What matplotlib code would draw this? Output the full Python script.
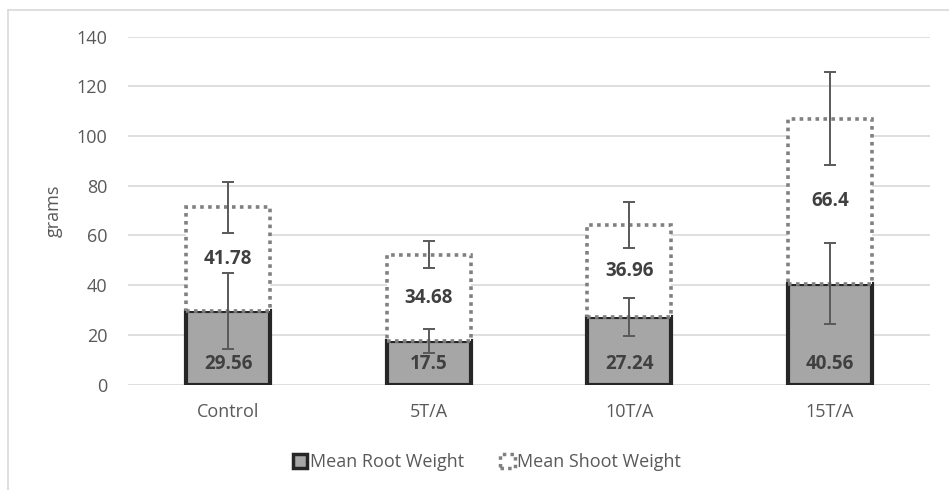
import matplotlib
matplotlib.use("Agg")
import matplotlib.pyplot as plt
from matplotlib.patches import Rectangle
from matplotlib.lines import Line2D
import numpy as np

categories = ["Control", "5T/A", "10T/A", "15T/A"]
root = [29.56, 17.5, 27.24, 40.56]
shoot = [41.78, 34.68, 36.96, 66.4]
root_err = [15.3, 5.0, 7.7, 16.2]
shoot_err = [10.2, 5.5, 9.1, 18.7]
yticks = [0, 20, 40, 60, 80, 100, 120, 140]

plt.rcParams['font.family'] = ['Open Sans', 'DejaVu Sans']

W, H = 949, 490
fig = plt.figure(figsize=(W / 100, H / 100), dpi=100)
ax = fig.add_axes([128 / W, 1 - 384.5 / H, (930 - 128) / W, (384.5 - 36.5) / H])

x = np.arange(len(categories))
bw = 0.42

ax.bar(x, root, bw, color="#A6A6A6", edgecolor="#262626", linewidth=3.0, zorder=3)
ax.bar(x, shoot, bw, bottom=root, color="white", edgecolor="#808080",
       linewidth=2.6, linestyle=(0, (1, 1.2)), zorder=3)

ax.errorbar(x, root, yerr=root_err, fmt="none", ecolor="#595959", elinewidth=1.4,
            capsize=4.5, capthick=1.4, zorder=5)
tops = [r + s for r, s in zip(root, shoot)]
ax.errorbar(x, tops, yerr=shoot_err, fmt="none", ecolor="#595959", elinewidth=1.4,
            capsize=4.5, capthick=1.4, zorder=5)

for i in range(len(categories)):
    ax.annotate(f"{root[i]:g}", (x[i], 0), xytext=(0, 15), textcoords="offset points",
                ha="center", va="center", fontsize=13.5, fontweight="bold",
                color="#404040", zorder=6)
    ax.text(x[i], root[i] + shoot[i] / 2, f"{shoot[i]:g}", ha="center", va="center",
            fontsize=13.5, fontweight="bold", color="#404040", zorder=6)

ax.set_xlim(-0.5, len(categories) - 0.5)
ax.set_ylim(0, 140)
ax.set_yticks(yticks)
ax.set_xticks(x)
ax.set_xticklabels(categories)
ax.tick_params(axis="both", length=0, colors="#595959", labelsize=13)
ax.tick_params(axis="y", pad=15)
ax.tick_params(axis="x", pad=13)
ax.grid(axis="y", color="#D9D9D9", linewidth=1.2, zorder=0)
ax.set_axisbelow(True)
for s in ["top", "right", "left", "bottom"]:
    ax.spines[s].set_visible(False)
ax.set_ylabel("grams", color="#595959", fontsize=13, labelpad=10)

# legend
h_root = Rectangle((0, 0), 1, 1, facecolor="#A6A6A6", edgecolor="#262626", linewidth=2.5)
h_shoot = Rectangle((0, 0), 1, 1, facecolor="white", edgecolor="#808080", linewidth=2.5,
                    linestyle=(0, (1, 1.2)))
fig.legend([h_root, h_shoot], ["Mean Root Weight", "Mean Shoot Weight"],
           loc="center", bbox_to_anchor=(487 / W, 1 - 462 / H), ncol=2, frameon=False,
           fontsize=13, labelcolor="#595959", handlelength=0.8, handleheight=0.8,
           handletextpad=0.15, columnspacing=2.0)

# chart border (top and left visible)
fig.add_artist(Line2D([8 / W, 1], [1 - 10 / H, 1 - 10 / H], color="#D9D9D9", linewidth=1.2,
                      transform=fig.transFigure))
fig.add_artist(Line2D([8 / W, 8 / W], [0, 1 - 10 / H], color="#D9D9D9", linewidth=1.2,
                      transform=fig.transFigure))

fig.savefig("out.png", dpi=100, facecolor="white")
